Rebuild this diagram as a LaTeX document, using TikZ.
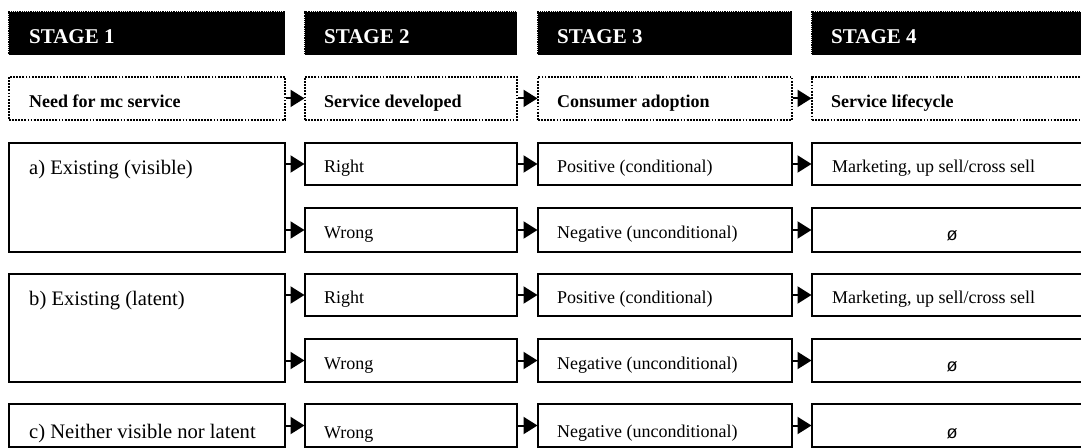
\documentclass[tikz,border=0pt]{standalone}
\usepackage{fontspec}
\setmainfont{Liberation Serif}
\newfontfamily\sansf{Liberation Sans}
\usetikzlibrary{arrows.meta,calc}
\begin{document}
\begin{tikzpicture}[x=1pt,y=-1pt,
  stagebox/.style={rectangle, fill=black, draw=black, line width=1.2pt, dash pattern=on 1.2pt off 1pt, inner sep=0pt, anchor=north west, minimum height=43pt},
  subbox/.style={rectangle, draw=black, line width=1.8pt, dash pattern=on 1.8pt off 1.3pt, inner sep=0pt, anchor=north west, minimum height=43pt},
  box/.style={rectangle, draw=black, line width=2pt, inner sep=0pt, anchor=north west},
  stagetxt/.style={anchor=base west, inner sep=0pt, text=white, font=\fontsize{21}{25}\selectfont\bfseries},
  subtxt/.style={anchor=base west, inner sep=0pt, font=\fontsize{18}{22}\selectfont\bfseries},
  needtxt/.style={anchor=base west, inner sep=0pt, font=\fontsize{20.6}{24}\selectfont},
  celltxt/.style={anchor=base west, inner sep=0pt, font=\fontsize{18}{22}\selectfont},
  nulltxt/.style={anchor=base, inner sep=0pt, font=\sansf\fontsize{18}{22}\selectfont},
  arr/.style={line width=2pt, -{Triangle[length=14pt,width=17pt]}, shorten >=-0.5pt}
]
\useasboundingbox (0,0) rectangle (1081,447);
\clip (0,0) rectangle (1081,447);

% stage headers
\node[stagebox, minimum width=276pt] (s1) at (8,11) {};
\node[stagebox, minimum width=212pt] (s2) at (304,11) {};
\node[stagebox, minimum width=254pt] (s3) at (537,11) {};
\node[stagebox, minimum width=280pt] (s4) at (811,11) {};
\node[stagetxt] (s1t) at ($(s1.north west)+(21,32)$) {STAGE 1};
\node[stagetxt] (s2t) at ($(s2.north west)+(20,32)$) {STAGE 2};
\node[stagetxt] (s3t) at ($(s3.north west)+(20,32)$) {STAGE 3};
\node[stagetxt] (s4t) at ($(s4.north west)+(20,32)$) {STAGE 4};

% sub headers
\node[subbox, minimum width=276pt] (h1) at (8,76) {};
\node[subbox, minimum width=212pt] (h2) at (304,76) {};
\node[subbox, minimum width=254pt] (h3) at (537,76) {};
\node[subbox, minimum width=280pt] (h4) at (811,76) {};
\node[subtxt] (h1t) at ($(h1.north west)+(21,31)$) {Need for mc service};
\node[subtxt] (h2t) at ($(h2.north west)+(20,31)$) {Service developed};
\node[subtxt] (h3t) at ($(h3.north west)+(20,31)$) {Consumer adoption};
\node[subtxt] (h4t) at ($(h4.north west)+(20,31)$) {Service lifecycle};
\draw[arr] (h1.east) -- (h2.west);
\draw[arr] (h2.east) -- (h3.west);
\draw[arr] (h3.east) -- (h4.west);

% row a
\node[box, minimum width=276pt, minimum height=109pt] (a1) at (8,142) {};
\node[needtxt] (a1t) at ($(a1.north west)+(21,32)$) {a) Existing (visible)};
\node[box, minimum width=212pt, minimum height=42pt] (ar2) at (304,142) {};
\node[box, minimum width=254pt, minimum height=42pt] (ar3) at (537,142) {};
\node[box, minimum width=280pt, minimum height=42pt] (ar4) at (811,142) {};
\node[box, minimum width=212pt, minimum height=44pt] (aw2) at (304,207) {};
\node[box, minimum width=254pt, minimum height=44pt] (aw3) at (537,207) {};
\node[box, minimum width=280pt, minimum height=44pt] (aw4) at (811,207) {};
\node[celltxt] (ar2t) at ($(ar2.north west)+(20,30)$) {Right};
\node[celltxt] (ar3t) at ($(ar3.north west)+(20,30)$) {Positive (conditional)};
\node[celltxt] (ar4t) at ($(ar4.north west)+(21,30)$) {Marketing, up sell/cross sell};
\node[celltxt] (aw2t) at ($(aw2.north west)+(20,31)$) {Wrong};
\node[celltxt] (aw3t) at ($(aw3.north west)+(20,31)$) {Negative (unconditional)};
\node[nulltxt] (aw4t) at ($(aw4.north)+(0,33)$) {ø};
\draw[arr] (a1.east |- ar2.west) -- (ar2.west);
\draw[arr] (a1.east |- aw2.west) -- (aw2.west);
\draw[arr] (ar2.east) -- (ar3.west);
\draw[arr] (aw2.east) -- (aw3.west);
\draw[arr] (ar3.east) -- (ar4.west);
\draw[arr] (aw3.east) -- (aw4.west);

% row b
\node[box, minimum width=276pt, minimum height=108pt] (b1) at (8,273) {};
\node[needtxt] (b1t) at ($(b1.north west)+(21,32)$) {b) Existing (latent)};
\node[box, minimum width=212pt, minimum height=42pt] (br2) at (304,273) {};
\node[box, minimum width=254pt, minimum height=42pt] (br3) at (537,273) {};
\node[box, minimum width=280pt, minimum height=42pt] (br4) at (811,273) {};
\node[box, minimum width=212pt, minimum height=43pt] (bw2) at (304,338) {};
\node[box, minimum width=254pt, minimum height=43pt] (bw3) at (537,338) {};
\node[box, minimum width=280pt, minimum height=43pt] (bw4) at (811,338) {};
\node[celltxt] (br2t) at ($(br2.north west)+(20,30)$) {Right};
\node[celltxt] (br3t) at ($(br3.north west)+(20,30)$) {Positive (conditional)};
\node[celltxt] (br4t) at ($(br4.north west)+(21,30)$) {Marketing, up sell/cross sell};
\node[celltxt] (bw2t) at ($(bw2.north west)+(20,31)$) {Wrong};
\node[celltxt] (bw3t) at ($(bw3.north west)+(20,31)$) {Negative (unconditional)};
\node[nulltxt] (bw4t) at ($(bw4.north)+(0,33)$) {ø};
\draw[arr] (b1.east |- br2.west) -- (br2.west);
\draw[arr] (b1.east |- bw2.west) -- (bw2.west);
\draw[arr] (br2.east) -- (br3.west);
\draw[arr] (bw2.east) -- (bw3.west);
\draw[arr] (br3.east) -- (br4.west);
\draw[arr] (bw3.east) -- (bw4.west);

% row c
\node[box, minimum width=276pt, minimum height=43pt] (c1) at (8,403) {};
\node[needtxt] (c1t) at ($(c1.north west)+(21,35)$) {c) Neither visible nor latent};
\node[box, minimum width=212pt, minimum height=43pt] (cw2) at (304,403) {};
\node[box, minimum width=254pt, minimum height=43pt] (cw3) at (537,403) {};
\node[box, minimum width=280pt, minimum height=43pt] (cw4) at (811,403) {};
\node[celltxt] (cw2t) at ($(cw2.north west)+(20,35)$) {Wrong};
\node[celltxt] (cw3t) at ($(cw3.north west)+(20,34)$) {Negative (unconditional)};
\node[nulltxt] (cw4t) at ($(cw4.north)+(0,35)$) {ø};
\draw[arr] (c1.east) -- (cw2.west);
\draw[arr] (cw2.east) -- (cw3.west);
\draw[arr] (cw3.east) -- (cw4.west);
\end{tikzpicture}
\end{document}
